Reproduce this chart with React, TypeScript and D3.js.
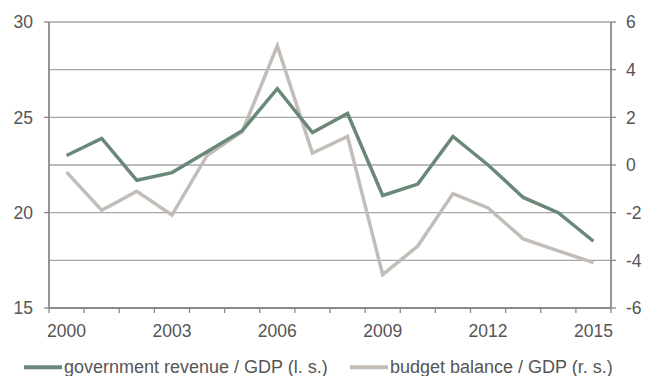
import React from "react";
import * as d3 from "d3";

const years = ["2000","2001","2002","2003","2004","2005","2006","2007","2008","2009","2010","2011","2012","2013","2014","2015"];
const revenue = [23.0, 23.9, 21.7, 22.1, 23.2, 24.3, 26.5, 24.2, 25.2, 20.9, 21.5, 24.0, 22.5, 20.8, 20.0, 18.5];
const balance = [-0.3, -1.9, -1.1, -2.1, 0.4, 1.4, 5.0, 0.5, 1.2, -4.6, -3.4, -1.2, -1.8, -3.1, -3.6, -4.1];
const leftTicks = [15, 20, 25, 30];
const rightTicks = [-6, -4, -2, 0, 2, 4, 6];
const xLabels = ["2000", "2003", "2006", "2009", "2012", "2015"];
const seriesNames = ["government revenue / GDP (l. s.)", "budget balance / GDP (r. s.)"];

const W = 655, H = 376;
const L = 49, R = 611, T = 22, B = 308;
const GREEN = "#6a8878";
const GRAY = "#c3bdb8";
const TXT = "#555555";
const AX = "#8a8a8a";
const GRID = "#a6a6a6";
const FONT = "'Liberation Sans', Arial, sans-serif";
const TICK_FS = 17.5;
const LEG_FS = 18;

export default function App() {
  const x = d3.scaleBand<string>().domain(years).range([L, R]);
  const yl = d3.scaleLinear().domain([15, 30]).range([B, T]);
  const yr = d3.scaleLinear().domain([-6, 6]).range([B, T]);
  const cx = (d: string) => (x(d) as number) + x.bandwidth() / 2;
  const lineL = d3.line<number>().x((_, i) => cx(years[i])).y((v) => yl(v));
  const lineR = d3.line<number>().x((_, i) => cx(years[i])).y((v) => yr(v));
  const catTicks = [...years.map((d) => x(d) as number), R];

  return (
    <svg width={W} height={H} style={{ position: "absolute", left: 0, top: 0 }} fontFamily={FONT}>
      {rightTicks.filter((t) => t !== -6).map((t) => (
        <line key={"g" + t} x1={L} x2={R} y1={yr(t)} y2={yr(t)} stroke={GRID} strokeWidth={1.3} />
      ))}
      <line x1={L} x2={L} y1={T} y2={B} stroke={AX} strokeWidth={1.8} />
      {leftTicks.map((t) => (
        <g key={"l" + t}>
          <line x1={L - 5} x2={L} y1={yl(t)} y2={yl(t)} stroke={AX} strokeWidth={1.3} />
          <text x={33} y={yl(t)} dy="0.36em" textAnchor="end" fontSize={TICK_FS} fill={TXT}>{t}</text>
        </g>
      ))}
      <line x1={R} x2={R} y1={T} y2={B} stroke={AX} strokeWidth={1.8} />
      {rightTicks.map((t) => (
        <g key={"r" + t}>
          <line x1={R} x2={R + 5} y1={yr(t)} y2={yr(t)} stroke={AX} strokeWidth={1.3} />
          <text x={626} y={yr(t)} dy="0.36em" textAnchor="start" fontSize={TICK_FS} fill={TXT}>{t}</text>
        </g>
      ))}
      <line x1={L} x2={R} y1={B} y2={B} stroke={AX} strokeWidth={1.8} />
      {catTicks.map((p, i) => (
        <line key={"c" + i} x1={p} x2={p} y1={B} y2={B + 5} stroke={AX} strokeWidth={1.3} />
      ))}
      {xLabels.map((d) => (
        <text key={"x" + d} x={cx(d)} y={337} textAnchor="middle" fontSize={TICK_FS} fill={TXT}>{d}</text>
      ))}
      <path d={lineR(balance) as string} fill="none" stroke={GRAY} strokeWidth={3.5} strokeLinejoin="miter" />
      <path d={lineL(revenue) as string} fill="none" stroke={GREEN} strokeWidth={3.5} strokeLinejoin="miter" />
      <line x1={24} x2={62} y1={367.3} y2={367.3} stroke={GREEN} strokeWidth={4} />
      <text x={64} y={372.5} fontSize={LEG_FS} fill={TXT}>{seriesNames[0]}</text>
      <line x1={350} x2={388} y1={367.3} y2={367.3} stroke={GRAY} strokeWidth={4} />
      <text x={390} y={372.5} fontSize={LEG_FS} fill={TXT}>{seriesNames[1]}</text>
    </svg>
  );
}
